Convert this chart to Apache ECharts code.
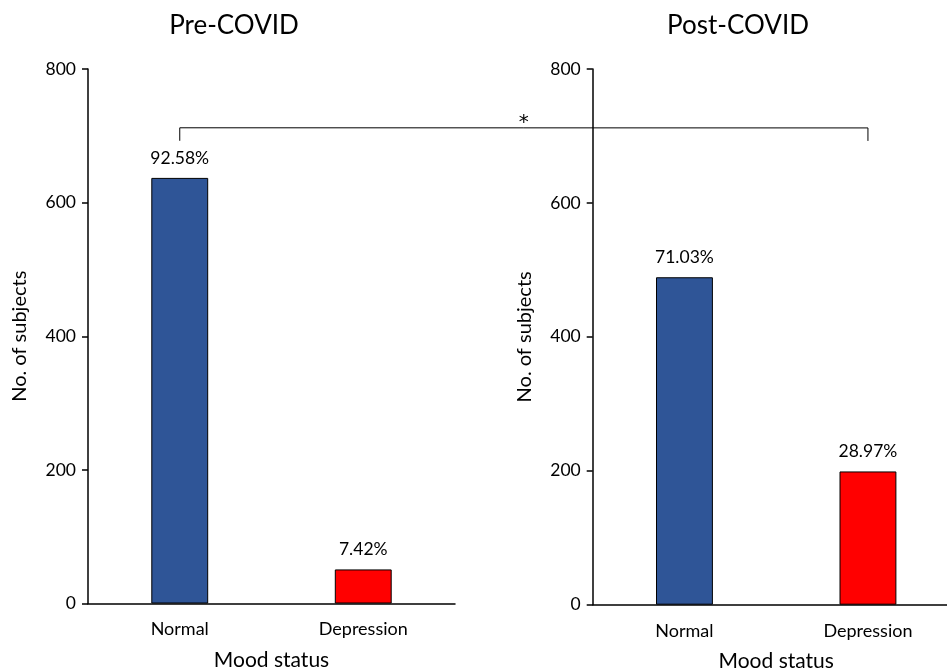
<!DOCTYPE html>
<html><head><meta charset="utf-8">
<script src="https://cdn.jsdelivr.net/npm/echarts@6/dist/echarts.min.js"></script>
<style>html,body{margin:0;padding:0;background:#fff}#c{width:947px;height:672px}</style>
</head><body><div id="c"></div>
<script>
var categories = ['Normal', 'Depression'];
var preValues = [637, 51];
var postValues = [489, 199];
var preLabels = ['92.58%', '7.42%'];
var postLabels = ['71.03%', '28.97%'];
var yTicks = [0, 200, 400, 600, 800];
var bracketLevel = 712;
var colors = ['#2F5597', '#FF0000'];
var FONT = 'Lato';

var chart = echarts.init(document.getElementById('c'));
function yAxis(idx) {
  return {
    type: 'value', gridIndex: idx, min: yTicks[0], max: yTicks[yTicks.length - 1], interval: 200,
    name: 'No. of subjects', nameLocation: 'middle', nameGap: 58,
    nameTextStyle: { fontFamily: FONT, fontSize: 20, color: '#000' },
    axisLine: { show: true, lineStyle: { color: '#000', width: 1.5 } },
    axisTick: { show: true, length: 6, lineStyle: { color: '#000', width: 1.5 } },
    axisLabel: { fontFamily: FONT, fontSize: 17.5, color: '#000', margin: 12 },
    splitLine: { show: false }
  };
}
function xAxis(idx) {
  return {
    type: 'category', gridIndex: idx, data: categories,
    name: 'Mood status', nameLocation: 'middle', nameGap: 46,
    nameTextStyle: { fontFamily: FONT, fontSize: 21, color: '#000' },
    axisLine: { show: true, lineStyle: { color: '#000', width: 1.5 } },
    axisTick: { show: false },
    axisLabel: { fontFamily: FONT, fontSize: 18, color: '#000', margin: 17 }
  };
}
function barSeries(idx, values, labels) {
  return {
    type: 'bar', xAxisIndex: idx, yAxisIndex: idx, barWidth: '31%',
    data: values.map(function (v, i) {
      return { value: v, itemStyle: { color: colors[i], borderColor: '#000', borderWidth: 1 } };
    }),
    label: {
      show: true, position: 'top', distance: 11, fontFamily: FONT, fontSize: 17.5, color: '#000',
      formatter: function (p) { return labels[p.dataIndex]; }
    }
  };
}
chart.setOption({
  animation: false,
  title: [
    { text: 'Pre-COVID', left: 229, top: 8, textAlign: 'center', textStyle: { fontFamily: FONT, fontSize: 26, fontWeight: 'normal', color: '#000' } },
    { text: 'Post-COVID', left: 733, top: 8, textAlign: 'center', textStyle: { fontFamily: FONT, fontSize: 26, fontWeight: 'normal', color: '#000' } }
  ],
  grid: [
    { left: 88, width: 367, top: 69, bottom: 68.5, outerBoundsMode: 'none', containLabel: false },
    { left: 592.7, width: 367, top: 69, bottom: 67.3, outerBoundsMode: 'none', containLabel: false }
  ],
  xAxis: [xAxis(0), xAxis(1)],
  yAxis: [yAxis(0), yAxis(1)],
  series: [barSeries(0, preValues, preLabels), barSeries(1, postValues, postLabels)]
});

var pL = chart.convertToPixel({ gridIndex: 0 }, [categories[0], bracketLevel]);
var pR = chart.convertToPixel({ gridIndex: 1 }, [categories[1], bracketLevel]);
var drop = 13;
chart.setOption({
  graphic: [
    { type: 'polyline', shape: { points: [[pL[0], pL[1] + drop], [pL[0], pL[1]], [pR[0], pR[1]], [pR[0], pR[1] + drop]] },
      style: { stroke: '#000', lineWidth: 1, fill: null } },
    { type: 'text', x: (pL[0] + pR[0]) / 2, y: pL[1] - 5,
      style: { text: '*', fontFamily: 'DejaVu Sans', fontSize: 20, fill: '#000', textAlign: 'center', textVerticalAlign: 'middle' } }
  ]
});
</script></body></html>
